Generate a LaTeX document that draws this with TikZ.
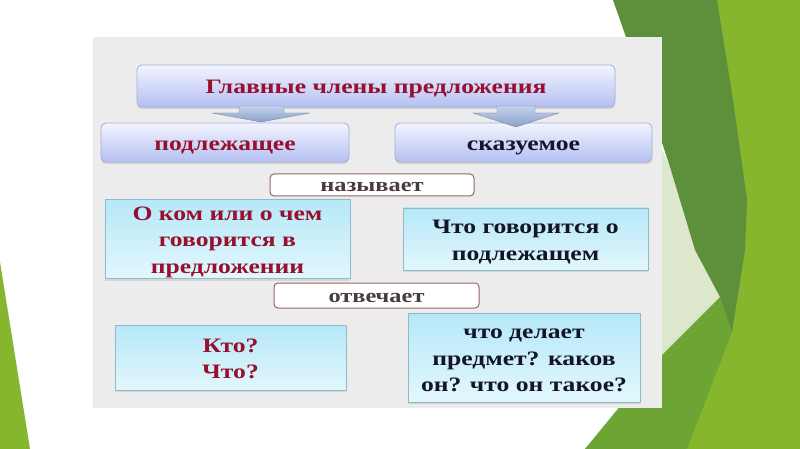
\documentclass[tikz,border=0pt]{standalone}
\usepackage{fontspec}
\setmainfont{Liberation Serif}[FakeStretch=1.25]
\usetikzlibrary{shadows,calc}
\definecolor{crim}{HTML}{96102F}
\definecolor{ink}{HTML}{14142A}
\definecolor{tagink}{HTML}{4A3C3C}
\definecolor{lavtop}{HTML}{F2F4FE}
\definecolor{lavbot}{HTML}{B4C0F2}
\definecolor{lavline}{HTML}{A3AEDA}
\definecolor{cytop}{HTML}{B6E8F8}
\definecolor{cybot}{HTML}{E2F7FC}
\definecolor{cyline}{HTML}{8FB8C8}
\definecolor{tagline}{HTML}{8E6A60}
\definecolor{panel}{HTML}{ECECEC}
\definecolor{ygreen}{HTML}{86B52E}
\definecolor{dgreen}{HTML}{5E8F3A}
\definecolor{mgreen}{HTML}{6CA534}
\definecolor{pgreen}{HTML}{DDE7CB}
\definecolor{arrtop}{HTML}{C4D2EE}
\definecolor{arrbot}{HTML}{8A9FC8}
\newcommand\boxtext[1]{\raisebox{-2.5pt}[\height][\depth]{\begin{tabular}{@{}c@{}}#1\end{tabular}}}
\tikzset{
  txt/.style={font=\bfseries\fontsize{20.5}{26.5}\selectfont, inner sep=0pt},
  lavbox/.style={txt, rounded corners=5pt, draw=lavline, line width=0.8pt,
    top color=lavtop, bottom color=lavbot,
    drop shadow={opacity=0.25, shadow xshift=0pt, shadow yshift=-2pt}},
  cybox/.style={txt, draw=cyline, line width=0.6pt, top color=cytop, bottom color=cybot,
    drop shadow={opacity=0.2, shadow xshift=0pt, shadow yshift=-2pt}},
  tagbox/.style={font=\bfseries\fontsize{19.5}{22}\selectfont, text=tagink, inner sep=0pt,
    rounded corners=4pt, draw=tagline, line width=1pt, fill=white},
  blockarr/.style={top color=arrtop, bottom color=arrbot, draw=arrbot!80!black, line width=0.3pt}
}
\begin{document}
\begin{tikzpicture}[x=1pt,y=-1pt]
\useasboundingbox (0,0) rectangle (800,449);
% background
\fill[white] (0,0) rectangle (800,449);
\fill[ygreen] (0,262) -- (30,449) -- (0,449) -- cycle;
\fill[ygreen] (700,0) -- (800,0) -- (800,449) -- (585,449) -- (720,297) -- cycle;
\fill[pgreen] (662,150) -- (670,167) -- (695,250) -- (720,297) -- (662,358) -- cycle;
\fill[mgreen] (720,297) -- (732,332) -- (687,449) -- (585,449) -- (662,355) -- cycle;
\fill[dgreen] (613,0) -- (717,0) -- (733,100) -- (747,200) -- (745,250) -- (732,332)
   -- (720,297) -- (695,250) -- (670,167) -- (648,100) -- cycle;
% panel
\fill[panel] (93,37) rectangle (662,408);
% boxes
\node[lavbox, text=crim, minimum width=478pt, minimum height=42pt] (title) at (376,86) {\boxtext{Главные члены предложения}};
\node[lavbox, text=crim, minimum width=248pt, minimum height=39pt] (subj) at (225,142.5) {\boxtext{подлежащее}};
\node[lavbox, text=ink, minimum width=257pt, minimum height=39pt] (pred) at (523.5,142.5) {\boxtext{сказуемое}};
% block arrows
\coordinate (la) at (261,106);
\coordinate (ra) at (516,106);
\begin{scope}[shift={(la)}]
\path[blockarr] (-22,0) -- (23,0) -- (23,7) -- (49,7) -- (0,16) -- (-49,7) -- (-22,7) -- cycle;
\end{scope}
\begin{scope}[shift={(ra)}]
\path[blockarr] (-19,0) -- (19,0) -- (19,7) -- (43,7) -- (0,21) -- (-43,7) -- (-19,7) -- cycle;
\end{scope}
\node[tagbox, minimum width=204pt, minimum height=22pt] (names) at (372,185) {\boxtext{называет}};
\node[cybox, text=crim, minimum width=245pt, minimum height=78pt] (sdef) at (227.5,239) {\boxtext{О ком или о чем\\говорится в\\предложении}};
\node[cybox, text=ink, minimum width=245pt, minimum height=62pt] (pdef) at (525.5,239) {\boxtext{Что говорится о\\подлежащем}};
\node[tagbox, minimum width=205pt, minimum height=25pt] (answers) at (376.5,295.5) {\boxtext{отвечает}};
\node[cybox, text=crim, minimum width=231pt, minimum height=65pt] (sq) at (230.5,357.5) {\boxtext{Кто?\\Что?}};
\node[cybox, text=ink, minimum width=232pt, minimum height=89pt] (pq) at (524,357.5) {\boxtext{что делает\\предмет? каков\\он? что он такое?}};
\end{tikzpicture}
\end{document}
